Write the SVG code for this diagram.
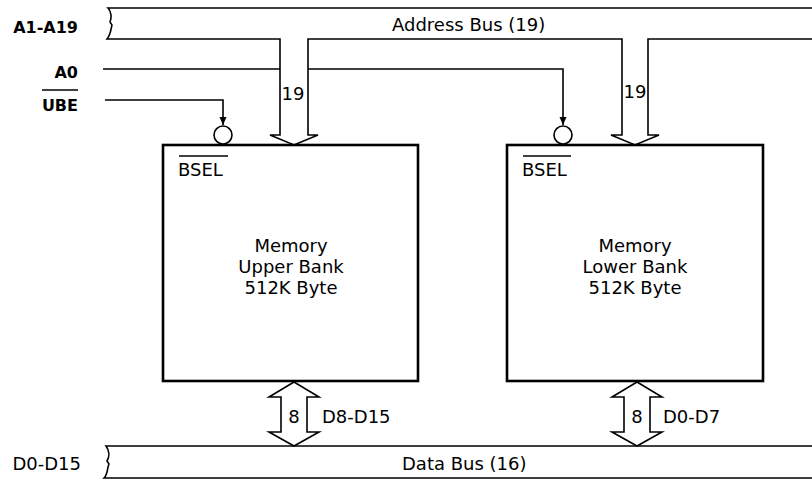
<svg xmlns="http://www.w3.org/2000/svg" width="812" height="480" viewBox="0 0 812 480">
  <style>
    text { font-family: "DejaVu Sans", "Liberation Sans", sans-serif; font-size: 18px; fill: #000; }
    .lbl { font-weight: bold; font-size: 16px; }
    .mid { text-anchor: middle; }
    .end { text-anchor: end; }
    .bus { fill: #fff; stroke: #000; stroke-width: 1.6; stroke-linejoin: miter; }
    .box { fill: #fff; stroke: #000; stroke-width: 2.6; }
    .wire { fill: none; stroke: #000; stroke-width: 1.6; }
    .bub { fill: #fff; stroke: #000; stroke-width: 1.6; }
    .ovl { stroke: #000; stroke-width: 1.4; }
  </style>
  <defs>
    <marker id="ah" viewBox="0 0 8 8" refX="8" refY="4" markerWidth="8" markerHeight="8" markerUnits="userSpaceOnUse" orient="auto">
      <path d="M0,0.5 L8,4 L0,7.5 Z" fill="#000"/>
    </marker>
  </defs>

  <!-- signal labels -->
  <g id="labels">
    <text class="lbl end" x="78" y="33">A1-A19</text>
    <text class="lbl end" x="78" y="78">A0</text>
    <text class="lbl end" x="78" y="111">UBE</text>
    <line class="ovl" x1="42" y1="90" x2="78" y2="90"/>
    <text class="end" x="81" y="470">D0-D15</text>
  </g>

  <!-- connectors -->
  <g id="connectors">
    <path class="wire" d="M103,69 H563 V125" marker-end="url(#ah)"/>
    <path class="wire" d="M105,100 H223 V125" marker-end="url(#ah)"/>
  </g>

  <!-- address bus -->
  <g id="address-bus">
    <path class="bus" d="M108,8 H815 V39 H648 V135 H659 L635,145 L611,135 H622 V39 H308 V135 H318 L294,145 L270,135 H280 V39 H107 C111,34 111,28 112,25 L110,22 C112,17 111,11 108,8 Z"/>
    <text x="392" y="31">Address Bus (19)</text>
    <text class="mid" x="293" y="100">19</text>
    <text class="mid" x="635" y="98">19</text>
  </g>

  <!-- upper bank -->
  <g id="upper-bank">
    <rect class="box" x="163" y="145" width="255" height="236"/>
    <circle class="bub" cx="223" cy="135" r="9"/>
    <text x="178" y="176">BSEL</text>
    <line class="ovl" x1="179" y1="156" x2="228" y2="156"/>
    <text class="mid" x="291" y="252">Memory</text>
    <text class="mid" x="291" y="273">Upper Bank</text>
    <text class="mid" x="291" y="294">512K Byte</text>
  </g>

  <!-- lower bank -->
  <g id="lower-bank">
    <rect class="box" x="507" y="145" width="256" height="236"/>
    <circle class="bub" cx="563" cy="135" r="9"/>
    <text x="522" y="176">BSEL</text>
    <line class="ovl" x1="523" y1="156" x2="571" y2="156"/>
    <text class="mid" x="635" y="252">Memory</text>
    <text class="mid" x="635" y="273">Lower Bank</text>
    <text class="mid" x="635" y="294">512K Byte</text>
  </g>

  <!-- data bus -->
  <g id="data-bus">
    <path class="bus" d="M106,446 H815 V478 H104 C108,474 107,468 109,464 L107,461 C110,456 109,450 106,446 Z"/>
    <text x="402" y="470">Data Bus (16)</text>
  </g>

  <!-- data links -->
  <g id="data-links">
    <polygon class="bus" points="294,382 319,397 307,397 307,432 319,432 294,446 269,432 281,432 281,397 269,397"/>
    <text class="mid" x="294" y="423">8</text>
    <text x="322" y="423">D8-D15</text>
    <polygon class="bus" points="637,382 662,397 650,397 650,432 662,432 637,446 612,432 624,432 624,397 612,397"/>
    <text class="mid" x="637" y="423">8</text>
    <text x="663" y="423">D0-D7</text>
  </g>
</svg>
